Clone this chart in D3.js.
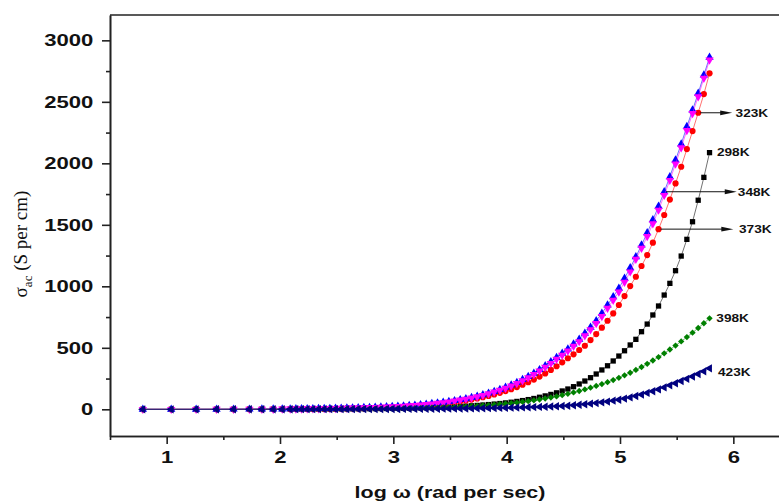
<!DOCTYPE html>
<html>
<head>
<meta charset="utf-8">
<script src="https://cdn.jsdelivr.net/npm/d3@7"></script>
<style>
  body { margin: 0; background: #fff; }
  svg { display: block; }
</style>
</head>
<body>
<div id="chart_sigma"></div>
<script>
// log of angular frequency, shared by every temperature
const logW = [
  0.79, 1.04, 1.26, 1.44, 1.59, 1.73, 1.84, 1.94, 2.02, 2.09,
  2.14, 2.19, 2.24, 2.29, 2.34, 2.39, 2.44, 2.49, 2.54, 2.59,
  2.64, 2.69, 2.74, 2.79, 2.84, 2.89, 2.94, 2.99, 3.04, 3.09,
  3.14, 3.19, 3.24, 3.29, 3.34, 3.39, 3.44, 3.49, 3.54, 3.59,
  3.64, 3.69, 3.74, 3.79, 3.84, 3.89, 3.94, 3.99, 4.04, 4.09,
  4.14, 4.19, 4.24, 4.29, 4.34, 4.39, 4.44, 4.49, 4.54, 4.59,
  4.64, 4.69, 4.74, 4.79, 4.84, 4.89, 4.94, 4.99, 5.04, 5.09,
  5.14, 5.19, 5.24, 5.29, 5.34, 5.39, 5.44, 5.49, 5.54, 5.59,
  5.64, 5.69, 5.74, 5.79
];

// sigma_ac (S per cm) for each temperature
const sigma298 = [
  0, 0.1, 0.2, 0.3, 0.4, 0.6, 0.8, 1, 1.2, 1.4,
  1.5, 1.65, 1.8, 2, 2.2, 2.4, 2.6, 2.9, 3.2, 3.5,
  3.8, 4.2, 4.6, 5.1, 5.6, 6.1, 6.7, 7.4, 8.1, 8.9,
  9.8, 10.8, 11.9, 13.1, 14.4, 15.9, 17.5, 19.3, 21.3, 23.5,
  26, 28.5, 31.5, 35, 38.5, 42.5, 47, 52, 57.5, 64,
  71, 79, 88, 98, 109, 121, 134, 149, 165, 184,
  206, 230, 257, 287, 320, 354, 393, 433, 476, 523,
  569, 631, 693, 767, 840, 929, 1024, 1127, 1246, 1382,
  1525, 1700, 1886, 2087
];
const sigma323 = [
  0.1, 0.2, 0.3, 0.5, 0.7, 1, 1.3, 1.6, 1.9, 2.2,
  2.5, 2.8, 3.1, 3.5, 3.9, 4.4, 4.9, 5.5, 6.1, 6.9,
  7.7, 8.6, 9.6, 10.8, 12, 13.5, 15, 17, 19, 21,
  23.5, 26.5, 29.5, 33, 37, 41, 46, 51, 57, 64,
  71, 79, 88, 98, 109, 121, 134, 148, 164, 181,
  200, 220, 242, 266, 292, 320, 350, 382, 415, 447,
  482, 517, 563, 612, 664, 720, 780, 848, 921, 1002,
  1078, 1165, 1254, 1355, 1465, 1580, 1705, 1837, 1972, 2116,
  2262, 2411, 2563, 2732
];
const sigma348 = [
  0, 0, 0, 0.5, 1, 1, 1.5, 2, 2.5, 3,
  3.5, 4, 4.5, 5, 6, 6.5, 7, 8, 9, 10,
  11, 12, 13.5, 15, 16.5, 18, 20, 22, 24, 27,
  30, 33, 37, 41, 46, 51, 57, 63, 70, 78,
  86, 96, 106, 118, 131, 145, 161, 178, 197, 218,
  241, 266, 293, 322, 353, 386, 420, 455, 490, 531,
  569, 618, 667, 720, 780, 848, 915, 984, 1065, 1150,
  1240, 1335, 1435, 1540, 1650, 1769, 1891, 2027, 2157, 2298,
  2433, 2569, 2718, 2862
];
const sigma373 = [
  0, 0, 0, 0.5, 0.9, 1, 1.4, 1.9, 2.4, 2.9,
  3.4, 3.9, 4.4, 4.9, 5.8, 6.3, 6.8, 7.7, 8.7, 9.7,
  10.7, 11.6, 13, 14.5, 16, 17.5, 19.4, 21.3, 23.3, 26.2,
  29, 32, 36, 40, 44.5, 49.5, 55, 61, 68, 75.5,
  83.5, 93, 103, 114, 127, 141, 156, 172, 191, 211,
  233, 258, 284, 312, 342, 374, 407, 441, 475, 514,
  551, 599, 647, 698, 756, 822, 887, 954, 1033, 1118,
  1220, 1310, 1405, 1510, 1620, 1740, 1862, 1996, 2127, 2268,
  2405, 2542, 2692, 2840
];
const sigma398 = [
  0, 0.05, 0.1, 0.2, 0.3, 0.5, 0.6, 0.8, 0.9, 1,
  1.1, 1.2, 1.3, 1.45, 1.6, 1.8, 2, 2.2, 2.4, 2.7,
  3, 3.3, 3.7, 4.1, 4.5, 5, 5.5, 6.1, 6.8, 7.5,
  8.3, 9.2, 10.2, 11.3, 12.5, 13.8, 15.3, 16.9, 18.7, 20.7,
  22.9, 25.3, 27.9, 30.8, 34, 37.5, 41.3, 45.5, 50, 55,
  60.5, 66.5, 73, 80, 88, 96, 105, 115, 126, 137,
  149, 162, 176, 190, 205, 221, 238, 256, 276, 297,
  320, 344, 370, 397, 425, 455, 486, 518, 552, 587,
  623, 661, 700, 740
];
const sigma423 = [
  0, 0.05, 0.1, 0.2, 0.3, 0.4, 0.5, 0.6, 0.7, 0.75,
  0.8, 0.85, 0.9, 0.95, 1, 1.1, 1.2, 1.3, 1.4, 1.5,
  1.6, 1.7, 1.8, 1.9, 2.1, 2.2, 2.4, 2.6, 2.8, 3,
  3.2, 3.4, 3.7, 4, 4.3, 4.6, 5, 5.4, 5.8, 6.3,
  6.8, 7.4, 8, 8.7, 9.4, 10.2, 11, 12, 13, 14,
  15.2, 16.5, 18, 19.5, 21, 23, 25, 27, 29, 33,
  37, 41, 46, 51, 57, 63, 70, 78, 87, 97,
  108, 120, 133, 147, 162, 178, 195, 212, 230, 248,
  267, 287, 309, 333
];

const temps = ["298K", "323K", "348K", "373K", "398K", "423K"];
const xTicks = [1, 2, 3, 4, 5, 6];
const yTicks = [0, 500, 1000, 1500, 2000, 2500, 3000];

(function conductivity() {

  let width = 779,
    height = 502,
    sx = 1.3; // lettering in the original is stretched sideways

  const svg = d3.select("#chart_sigma")
    .append("svg")
    .attr("width", width)
    .attr("height", height);

  let x = d3.scaleLinear()
    .domain([0.5, 6.5])
    .range([110, 790]);

  let y = d3.scaleLinear()
    .domain([-217, 3206])
    .range([436, 15]);

  const axisColor = "#222",
    sansFont = "'Liberation Sans', Arial, sans-serif";

  let xMinor = d3.range(0.5, 6.6, 0.5).filter(d => !xTicks.includes(d));
  let yMinor = d3.range(250, 3201, 500);

  // frame
  svg.append("line")
    .attr("x1", x(0.5)).attr("x2", x(6.5))
    .attr("y1", y(3206)).attr("y2", y(3206))
    .attr("stroke", axisColor).attr("stroke-width", 1.6);
  svg.append("line")
    .attr("x1", x(6.5)).attr("x2", x(6.5))
    .attr("y1", y(3206)).attr("y2", y(-217))
    .attr("stroke", axisColor).attr("stroke-width", 1.6);

  function styleAxis(g) {
    g.select(".domain").attr("stroke", axisColor).attr("stroke-width", 1.6);
    g.selectAll(".tick line").attr("stroke", axisColor).attr("stroke-width", 1.6);
    g.selectAll("text")
      .attr("font-family", sansFont)
      .attr("font-weight", "bold")
      .attr("font-size", 17)
      .attr("fill", "#111")
      .attr("transform", `scale(${sx},1)`);
  }

  svg.append("g")
    .attr("transform", `translate(0,${y(-217)})`)
    .call(d3.axisBottom(x).tickValues(xMinor).tickSize(4).tickSizeOuter(0).tickFormat(""))
    .call(styleAxis);

  svg.append("g")
    .attr("transform", `translate(0,${y(-217)})`)
    .call(d3.axisBottom(x).tickValues(xTicks).tickSize(8).tickPadding(7).tickSizeOuter(0)
      .tickFormat(d3.format("d")))
    .call(styleAxis);

  svg.append("g")
    .attr("transform", `translate(${x(0.5)},0)`)
    .call(d3.axisLeft(y).tickValues(yMinor).tickSize(4).tickSizeOuter(0).tickFormat(""))
    .call(styleAxis);

  svg.append("g")
    .attr("transform", `translate(${x(0.5)},0)`)
    .call(d3.axisLeft(y).tickValues(yTicks).tickSize(8).tickPadding(4.8).tickSizeOuter(0)
      .tickFormat(d3.format("d")))
    .call(styleAxis);

  // axis titles
  svg.append("text")
    .attr("text-anchor", "middle")
    .attr("transform", `translate(450,497.5) scale(${sx},1)`)
    .attr("font-family", sansFont)
    .attr("font-weight", "bold")
    .attr("font-size", 16.5)
    .attr("fill", "#111")
    .text("log ω (rad per sec)");

  let yTitle = svg.append("text")
    .attr("text-anchor", "middle")
    .attr("transform", "translate(27,244) rotate(-90)")
    .attr("font-family", "'Liberation Serif', 'Times New Roman', serif")
    .attr("font-size", 19)
    .attr("fill", "#111");
  yTitle.append("tspan").text("σ");
  yTitle.append("tspan").attr("font-size", 13).attr("dy", 5).text("ac");
  yTitle.append("tspan").attr("dy", -5).text(" (S per cm)");

  // series
  let series = [
    { name: temps[0], values: sigma298, color: "#000000", shape: d3.symbolSquare, size: 28, rot: 0 },
    { name: temps[1], values: sigma323, color: "#ff0000", shape: d3.symbolCircle, size: 30, rot: 0 },
    { name: temps[2], values: sigma348, color: "#0000ff", shape: d3.symbolTriangle, size: 30, rot: 0 },
    { name: temps[3], values: sigma373, color: "#ff00ff", shape: d3.symbolTriangle, size: 30, rot: 180 },
    { name: temps[4], values: sigma398, color: "#008000", shape: d3.symbolSquare, size: 20, rot: 45 },
    { name: temps[5], values: sigma423, color: "#000080", shape: d3.symbolTriangle, size: 30, rot: -90 }
  ];

  let line = d3.line()
    .x(d => x(d.w))
    .y(d => y(d.s));

  for (let s of series) {
    let pts = logW.map((w, i) => ({ w: w, s: s.values[i] }));
    let g = svg.append("g");

    g.append("path")
      .datum(pts)
      .attr("fill", "none")
      .attr("stroke", s.color)
      .attr("stroke-opacity", 0.7)
      .attr("stroke-width", 0.8)
      .attr("d", line);

    g.selectAll("path.mark")
      .data(pts)
      .join("path")
      .attr("class", "mark")
      .attr("d", d3.symbol().type(s.shape).size(s.size))
      .attr("transform", d => `translate(${x(d.w)},${y(d.s)}) rotate(${s.rot}) `)
      .attr("fill", s.color);
  }

  // temperature labels, some with arrows
  let notes = [
    { label: temps[1], series: 1, at: 5.69, arrowTo: 5.99, textAt: 6.02 },
    { label: temps[0], series: 0, at: 5.79, textAt: 5.855 },
    { label: temps[2], series: 2, at: 5.39, arrowTo: 6.03, textAt: 6.04 },
    { label: temps[3], series: 1, at: 5.34, arrowTo: 6.0, textAt: 6.05 },
    { label: temps[4], series: 4, at: 5.79, textAt: 5.85 },
    { label: temps[5], series: 5, at: 5.79, textAt: 5.865, level: 300 }
  ];

  for (let n of notes) {
    let v = series[n.series].values[logW.indexOf(n.at)];
    let py = y(n.level !== undefined ? n.level : v);

    if (n.arrowTo) {
      let tip = x(n.arrowTo);
      svg.append("line")
        .attr("x1", x(n.at) + 2).attr("x2", tip - 6)
        .attr("y1", py).attr("y2", py)
        .attr("stroke", "#111")
        .attr("stroke-width", 1);
      svg.append("path")
        .attr("d", `M${tip},${py} L${tip - 12},${py - 2.4} L${tip - 12},${py + 2.4} Z`)
        .attr("fill", "#111");
    }

    svg.append("text")
      .attr("transform", `translate(${x(n.textAt)},${py}) scale(${sx},1)`)
      .attr("dy", "0.36em")
      .attr("font-family", sansFont)
      .attr("font-weight", "bold")
      .attr("font-size", 10.5)
      .attr("fill", "#111")
      .text(n.label);
  }

})();
</script>
</body>
</html>
